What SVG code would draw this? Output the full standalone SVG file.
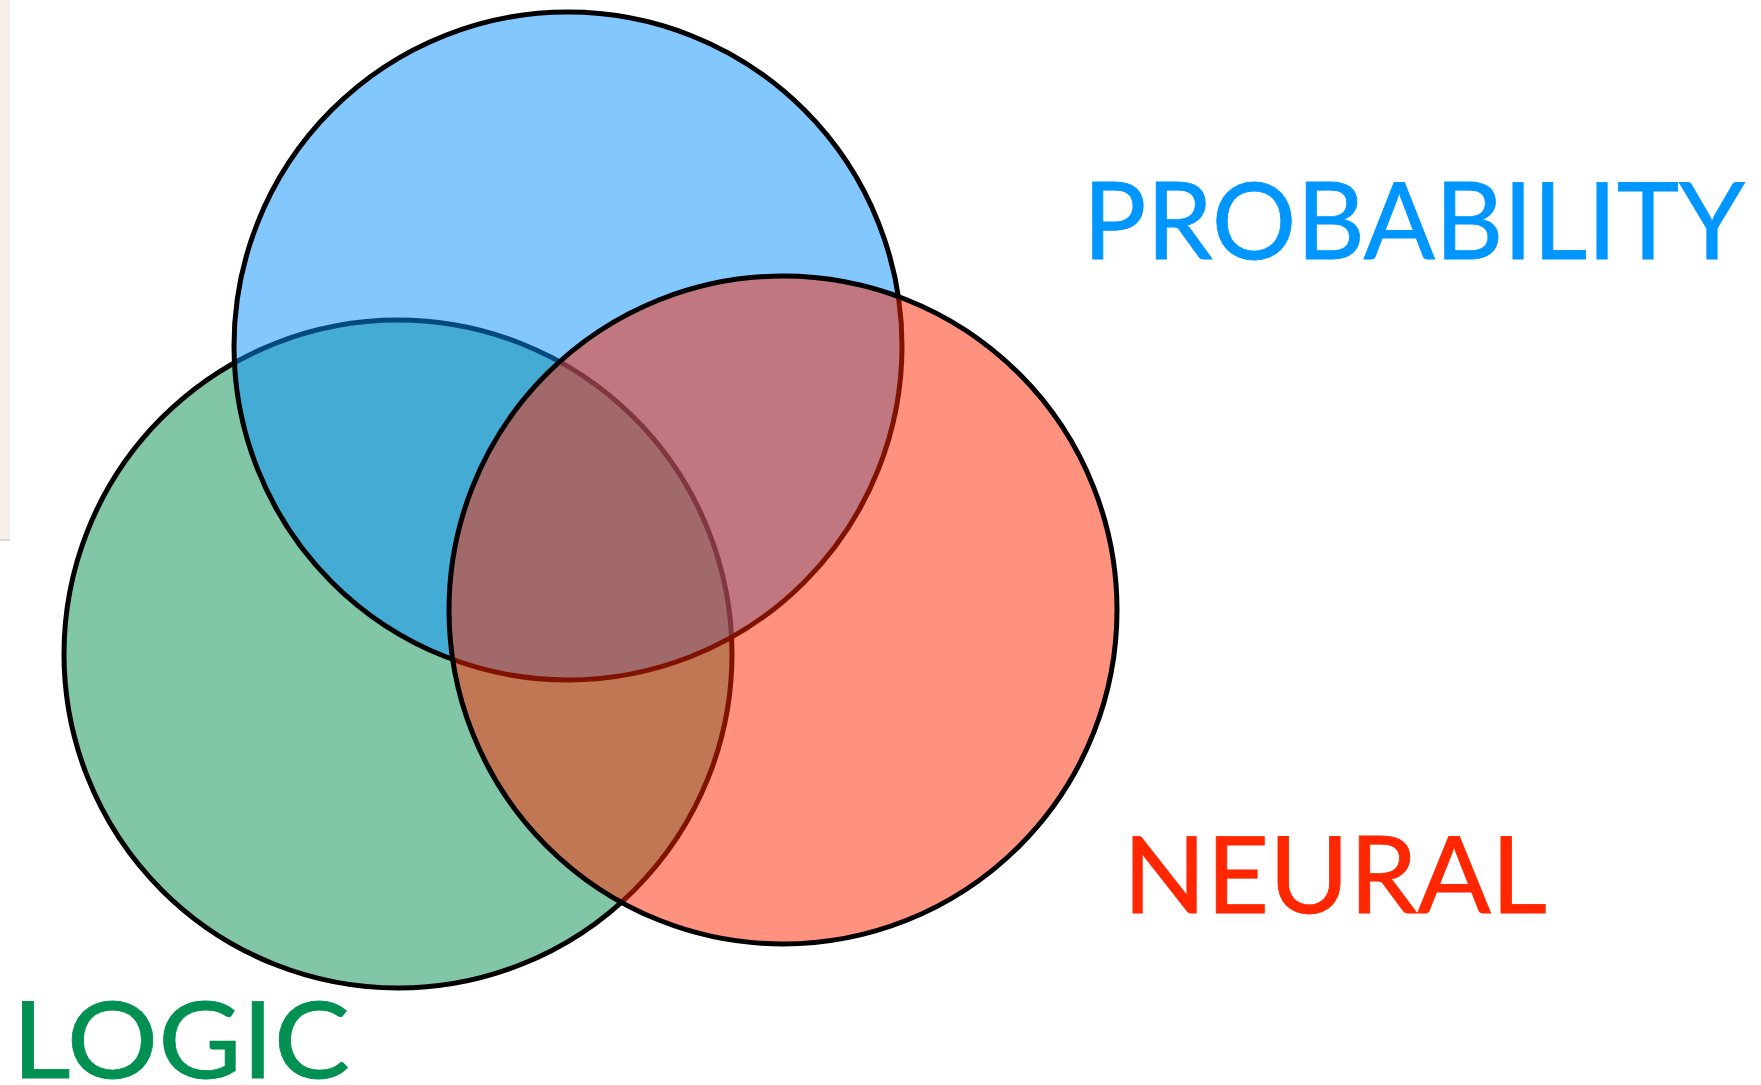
<svg xmlns="http://www.w3.org/2000/svg" width="1761" height="1085" viewBox="0 0 1761 1085">
<style>
.c{stroke:#000;stroke-width:5;fill-opacity:0.5}
.t{font-family:Lato,"Open Sans","Liberation Sans",sans-serif;font-size:107px;font-weight:400;stroke-width:0.8}
</style>
<rect width="1761" height="1085" fill="#fff"/>
<rect x="0" y="0" width="10" height="540" fill="#f6eee8"/>
<line x1="0" y1="540" x2="10" y2="540" stroke="#bbb" stroke-width="1"/>
<g id="logic">
<circle class="c" cx="398" cy="654" r="334" fill="#058d51"/>
</g>
<g id="probability">
<circle class="c" cx="568" cy="346" r="334" fill="#0591ff"/>
</g>
<g id="neural">
<circle class="c" cx="783" cy="610" r="334" fill="#ff2600"/>
</g>
<g id="connectors"></g>
<g id="labels">
<text class="t" x="1083" y="259" fill="#0096ff" stroke="#0096ff" textLength="662" lengthAdjust="spacingAndGlyphs">PROBABILITY</text>
<text class="t" x="1123" y="913" fill="#ff2600" stroke="#ff2600" textLength="424" lengthAdjust="spacingAndGlyphs">NEURAL</text>
<text class="t" x="12" y="1078" fill="#009051" stroke="#009051" textLength="338" lengthAdjust="spacingAndGlyphs">LOGIC</text>
</g>
</svg>
